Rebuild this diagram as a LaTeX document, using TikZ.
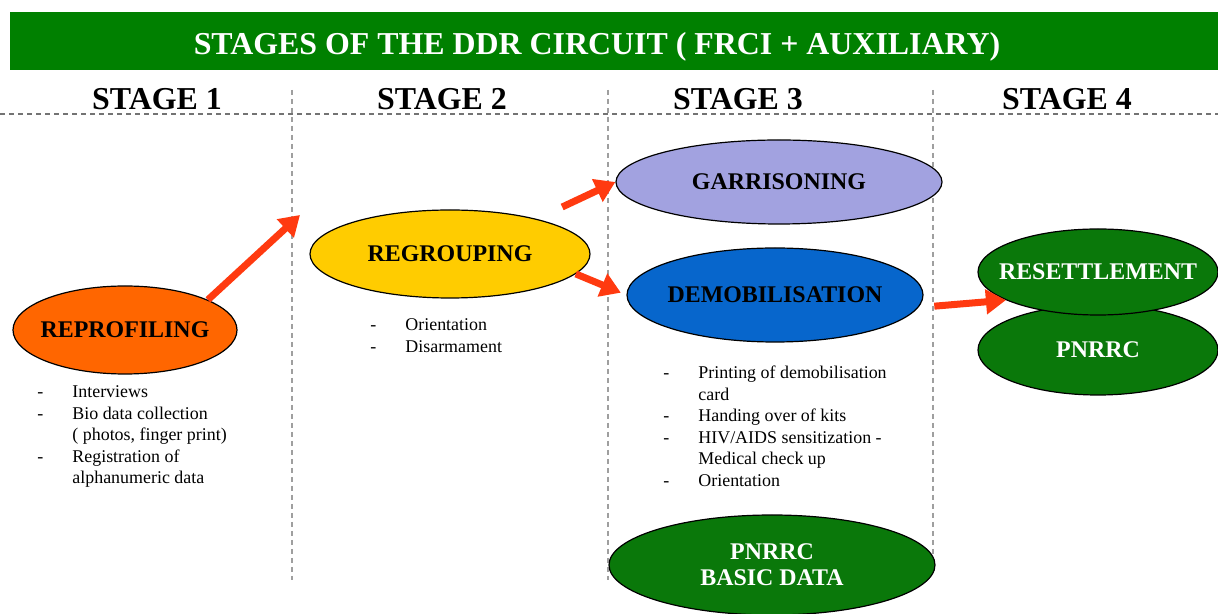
\documentclass[tikz,border=0pt]{standalone}
\usepackage{fontspec}
\setmainfont{Liberation Serif}
\usetikzlibrary{shapes.geometric,arrows.meta}
\definecolor{bannergreen}{HTML}{008000}
\definecolor{phasegreen}{HTML}{0A780A}
\definecolor{reprofcol}{HTML}{FF6600}
\definecolor{regroupcol}{HTML}{FFCC00}
\definecolor{garriscol}{HTML}{A2A2E0}
\definecolor{demobcol}{HTML}{0766CC}
\definecolor{flowred}{HTML}{FF3A10}
\tikzset{
  stage/.style={font=\fontsize{16}{18}\selectfont\bfseries},
  phase/.style={ellipse,draw=black,line width=0.6bp,inner xsep=-8bp,inner ysep=0pt,font=\fontsize{12}{13}\selectfont\bfseries},
  flow/.style={->,draw=flowred,line width=3.5bp},
  divider/.style={draw=gray!75,line width=0.6bp,dash pattern=on 2.5bp off 2bp},
  steps/.style={anchor=base west,inner sep=0pt,font=\fontsize{9}{10.75}\selectfont},
}
\newcommand{\steplist}[1]{\begin{tabular}[t]{@{}p{17.5bp}@{}l@{}}#1\end{tabular}}
\begin{document}
\begin{tikzpicture}[>={Triangle[length=10bp,width=12bp]},line join=bevel]
\useasboundingbox (0bp,0bp) rectangle (609bp,307bp);
%%
\node (banner) at (307bp,286.5bp) [rectangle,fill=bannergreen,inner sep=0pt,minimum width=604bp,minimum height=29bp] {};
\node (title) at (298.5bp,279.5bp) [anchor=base,text=white,font=\fontsize{16}{18}\selectfont\bfseries] {STAGES OF THE DDR CIRCUIT ( FRCI + AUXILIARY)};
%%
\node (stage1) at (78.5bp,257.5bp) [stage] {STAGE 1};
  \node (stage2) at (221bp,257.5bp) [stage] {STAGE 2};
  \node (stage3) at (369bp,257.5bp) [stage] {STAGE 3};
  \node (stage4) at (533.5bp,257.5bp) [stage] {STAGE 4};
%
\draw [divider,draw=gray!90!black] (0bp,250bp) -- (609bp,250bp);
\draw [divider] (146bp,262bp) -- (146bp,17bp);
\draw [divider] (304bp,262bp) -- (304bp,17bp);
\draw [divider] (466.5bp,262bp) -- (466.5bp,27bp);
%%
\node (reprof) at (62.5bp,142bp) [phase,fill=reprofcol,minimum width=112bp,minimum height=44bp] {REPROFILING};
  \node (regroup) at (225bp,180bp) [phase,fill=regroupcol,minimum width=140bp,minimum height=44bp] {REGROUPING};
  \node (garris) at (389.5bp,216bp) [phase,fill=garriscol,minimum width=163bp,minimum height=42bp] {GARRISONING};
  \node (demob) at (387.5bp,159.5bp) [phase,fill=demobcol,minimum width=148bp,minimum height=47bp] {DEMOBILISATION};
  \node (pnrrc) at (549bp,132bp) [phase,fill=phasegreen,text=white,minimum width=120bp,minimum height=45bp] {PNRRC};
  \node (resettle) at (549bp,171bp) [phase,fill=phasegreen,text=white,minimum width=120bp,minimum height=43bp] {RESETTLEMENT};
  \node (basicdata) at (386bp,24.5bp) [phase,fill=phasegreen,text=white,minimum width=163bp,minimum height=50bp,align=center] {PNRRC\\BASIC DATA};
%%
\node (reproflist) at (18.5bp,108bp) [steps] {\steplist{-&Interviews\\-&Bio data collection\\&( photos, finger print)\\-&Registration of\\&alphanumeric data}};
  \node (regrouplist) at (185bp,141.5bp) [steps] {\steplist{-&Orientation\\-&Disarmament}};
  \node (demoblist) at (331.5bp,117.5bp) [steps] {\steplist{-&Printing of demobilisation\\&card\\-&Handing over of kits\\-&HIV/AIDS sensitization -\\&Medical check up\\-&Orientation}};
%%
\coordinate (stage2in) at (150bp,199.5bp);
\draw [flow] (reprof.20) -- (stage2in);
\draw [flow,shorten <=14bp] (regroup.22) -- (garris.west);
\draw [flow,shorten >=3bp] (regroup.-9) -- (demob.west);
\draw [flow,shorten <=8bp] (demob.-5) -- (resettle.197);
%
\end{tikzpicture}
\end{document}
